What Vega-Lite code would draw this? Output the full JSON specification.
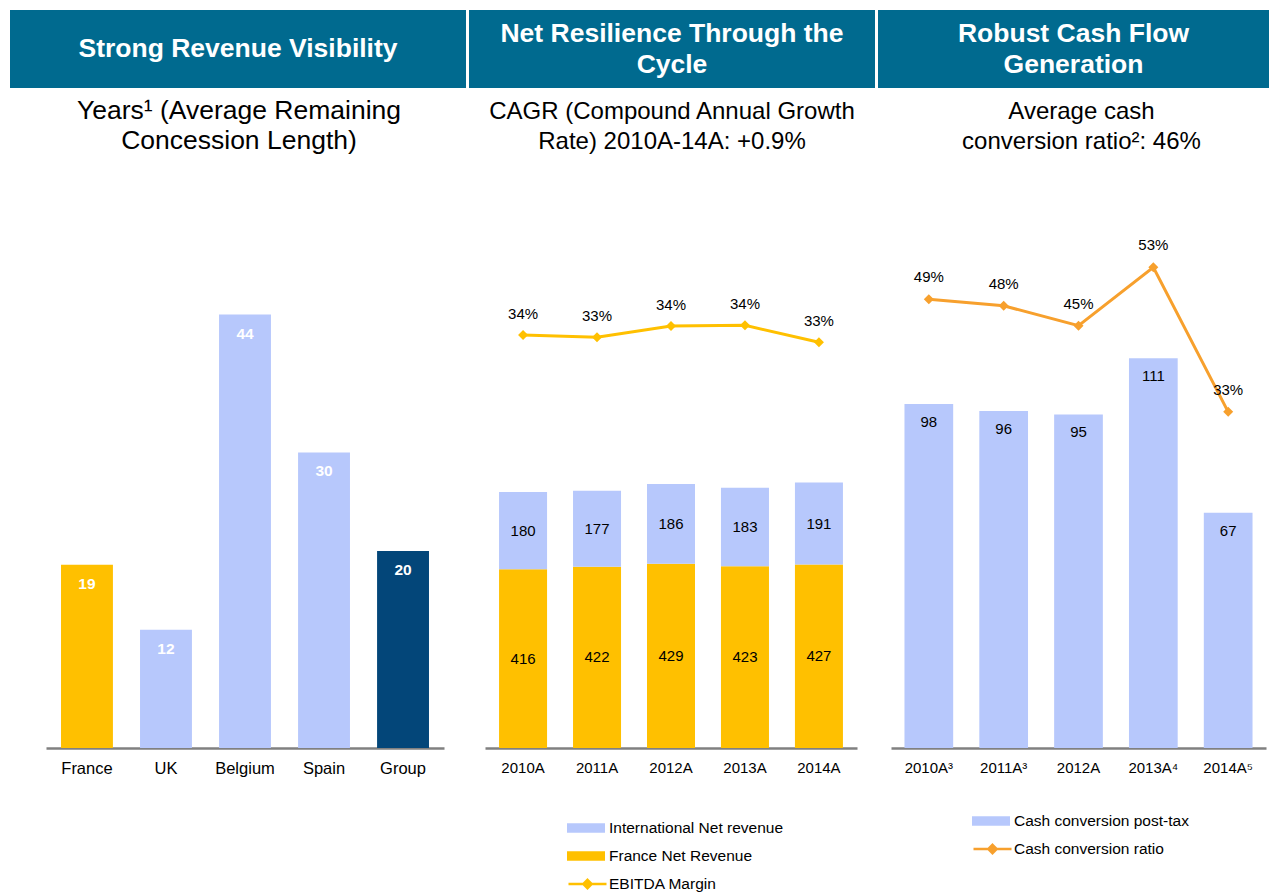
{
  "$schema": "https://vega.github.io/schema/vega-lite/v6.json",
  "padding": {"left": 10, "top": 10, "right": 0, "bottom": 0},
  "background": "white",
  "config": {
    "font": "Liberation Sans",
    "view": {"stroke": null},
    "axisX": {"domainColor": "#808080", "domainWidth": 2.5, "ticks": false, "labelFontSize": 15, "labelColor": "#000000", "labelPadding": 12, "labelAngle": 0, "grid": false, "labelFont": "Liberation Sans"},
    "title": {"fontSize": 24, "fontWeight": "normal", "color": "#000000", "anchor": "middle", "frame": "group", "baseline": "middle", "lineHeight": 30, "offset": 46, "font": "Liberation Sans"},
    "legend": {"labelFontSize": 15.5, "labelColor": "#000000", "labelFont": "Liberation Sans", "padding": 0, "symbolSize": 1444, "clipHeight": 20, "rowPadding": 8, "labelOffset": 4, "labelLimit": 400}
  },
  "datasets": {
    "concession": [
      {"country": "France", "years": 18.6},
      {"country": "UK", "years": 12},
      {"country": "Belgium", "years": 44},
      {"country": "Spain", "years": 30},
      {"country": "Group", "years": 20}
    ],
    "revenue": [
      {"year": "2010A", "series": "France Net Revenue", "revenue": 416},
      {"year": "2010A", "series": "International Net revenue", "revenue": 180},
      {"year": "2011A", "series": "France Net Revenue", "revenue": 422},
      {"year": "2011A", "series": "International Net revenue", "revenue": 177},
      {"year": "2012A", "series": "France Net Revenue", "revenue": 429},
      {"year": "2012A", "series": "International Net revenue", "revenue": 186},
      {"year": "2013A", "series": "France Net Revenue", "revenue": 423},
      {"year": "2013A", "series": "International Net revenue", "revenue": 183},
      {"year": "2014A", "series": "France Net Revenue", "revenue": 427},
      {"year": "2014A", "series": "International Net revenue", "revenue": 191}
    ],
    "margin": [
      {"year": "2010A", "ebitda": 0.336},
      {"year": "2011A", "ebitda": 0.334},
      {"year": "2012A", "ebitda": 0.3438},
      {"year": "2013A", "ebitda": 0.3444},
      {"year": "2014A", "ebitda": 0.3297}
    ],
    "cash": [
      {"year": "2010A³", "cash": 98, "ratio": 0.487},
      {"year": "2011A³", "cash": 96, "ratio": 0.478},
      {"year": "2012A", "cash": 95, "ratio": 0.45},
      {"year": "2013A⁴", "cash": 111, "ratio": 0.532},
      {"year": "2014A⁵", "cash": 67, "ratio": 0.329}
    ]
  },
  "hconcat": [
    {
      "vconcat": [
        {
          "width": 456, "height": 78,
          "view": {"fill": "#006A8F", "stroke": null},
          "data": {"values": [{"h": "Strong Revenue Visibility"}]},
          "mark": {"type": "text", "fontSize": 26.5, "fontWeight": "bold", "color": "white", "lineBreak": "\n", "lineHeight": 31, "baseline": "middle", "align": "center"},
          "encoding": {"text": {"field": "h"}}
        },
        {
          "width": 456, "height": 548,
          "title": {"text": ["Years¹ (Average Remaining", "Concession Length)"], "fontSize": 26.5, "dx": 1},
          "data": {"name": "concession"},
          "encoding": {
            "x": {"field": "country", "type": "nominal", "sort": null, "title": null,
                  "axis": {"labelFontSize": 16.5},
                  "scale": {"range": [36, 434], "paddingInner": 0.343, "paddingOuter": 0.19}},
            "y": {"field": "years", "type": "quantitative", "axis": null, "scale": {"domain": [0, 55.63]}}
          },
          "layer": [
            {
              "mark": {"type": "bar"},
              "encoding": {
                "color": {"field": "country", "type": "nominal", "sort": null, "legend": null,
                          "scale": {"domain": ["France", "UK", "Belgium", "Spain", "Group"], "range": ["#FFC000", "#B7C8FC", "#B7C8FC", "#B7C8FC", "#034679"]}}
              }
            },
            {
              "mark": {"type": "text", "dy": 19, "baseline": "middle", "fontWeight": "bold", "color": "white", "fontSize": 15.5},
              "encoding": {"text": {"field": "years", "type": "quantitative", "format": ".0f"}}
            }
          ]
        }
      ],
      "spacing": 112,
      "bounds": "flush"
    },
    {
      "vconcat": [
        {
          "width": 406, "height": 78,
          "view": {"fill": "#006A8F", "stroke": null},
          "data": {"values": [{"h": "Net Resilience Through the\nCycle"}]},
          "mark": {"type": "text", "fontSize": 26.5, "fontWeight": "bold", "color": "white", "lineBreak": "\n", "lineHeight": 31, "baseline": "middle", "align": "center", "dy": -15.5},
          "encoding": {"text": {"field": "h"}}
        },
        {
          "width": 406, "height": 548,
          "title": {"text": ["CAGR (Compound Annual Growth", "Rate) 2010A-14A: +0.9%"]},
          "layer": [
            {
              "data": {"name": "revenue"},
              "mark": {"type": "bar"},
              "encoding": {
                "x": {"field": "year", "type": "nominal", "sort": null, "title": null,
                      "scale": {"range": [16, 388], "paddingInner": 0.351, "paddingOuter": 0.19}},
                "y": {"field": "revenue", "type": "quantitative", "stack": "zero", "axis": null, "scale": {"domain": [0, 1276]}},
                "color": {"field": "series", "type": "nominal",
                          "scale": {"domain": ["International Net revenue", "France Net Revenue"], "range": ["#B7C8FC", "#FFC000"]},
                          "legend": {"title": null, "orient": "none", "legendX": 98, "legendY": 618, "symbolType": "M-1,-0.25H1V0.25H-1Z", "symbolStrokeWidth": 0}},
                "order": {"field": "series", "sort": "ascending"}
              }
            },
            {
              "data": {"name": "revenue"},
              "mark": {"type": "text", "fontSize": 15, "color": "#000000", "baseline": "middle"},
              "encoding": {
                "x": {"field": "year", "type": "nominal", "sort": null, "title": null},
                "y": {"field": "revenue", "type": "quantitative", "stack": "zero", "bandPosition": 0.5, "axis": null, "scale": {"domain": [0, 1276]}},
                "detail": {"field": "series"},
                "order": {"field": "series", "sort": "ascending"},
                "text": {"field": "revenue", "type": "quantitative"}
              }
            },
            {
              "data": {"name": "margin"},
              "mark": {"type": "line", "strokeWidth": 3},
              "encoding": {
                "x": {"field": "year", "type": "nominal", "sort": null, "title": null},
                "y": {"field": "ebitda", "type": "quantitative", "axis": null, "scale": {"domain": [-0.02, 0.4524]}},
                "stroke": {"datum": "EBITDA Margin", "type": "nominal", "scale": {"range": ["#FFC000"]},
                           "legend": {"title": null, "orient": "none", "legendX": 98, "legendY": 674, "labelOffset": 1, "symbolType": "M-1,0H1M0,-0.22L0.22,0L0,0.22L-0.22,0Z", "symbolStrokeWidth": 2.5, "symbolFillColor": "#FFC000"}}
              }
            },
            {
              "data": {"name": "margin"},
              "mark": {"type": "point", "shape": "diamond", "filled": true, "size": 100, "color": "#FFC000", "opacity": 1},
              "encoding": {
                "x": {"field": "year", "type": "nominal", "sort": null, "title": null},
                "y": {"field": "ebitda", "type": "quantitative", "axis": null, "scale": {"domain": [-0.02, 0.4524]}}
              }
            },
            {
              "data": {"name": "margin"},
              "mark": {"type": "text", "fontSize": 15, "color": "#000000", "baseline": "middle", "dy": -21},
              "encoding": {
                "x": {"field": "year", "type": "nominal", "sort": null, "title": null},
                "y": {"field": "ebitda", "type": "quantitative", "axis": null, "scale": {"domain": [-0.02, 0.4524]}},
                "text": {"field": "ebitda", "type": "quantitative", "format": ".0%"}
              }
            }
          ],
          "resolve": {"scale": {"y": "independent"}}
        }
      ],
      "spacing": 112,
      "bounds": "flush",
      "resolve": {"scale": {"color": "independent", "stroke": "independent"}, "legend": {"color": "independent", "stroke": "independent"}}
    },
    {
      "vconcat": [
        {
          "width": 391, "height": 78,
          "view": {"fill": "#006A8F", "stroke": null},
          "data": {"values": [{"h": "Robust Cash Flow\nGeneration"}]},
          "mark": {"type": "text", "fontSize": 26.5, "fontWeight": "bold", "color": "white", "lineBreak": "\n", "lineHeight": 31, "baseline": "middle", "align": "center", "dy": -15.5},
          "encoding": {"text": {"field": "h"}}
        },
        {
          "width": 391, "height": 548,
          "title": {"text": ["Average cash", "conversion ratio²: 46%"], "dx": 8},
          "data": {"name": "cash"},
          "layer": [
            {
              "mark": {"type": "bar"},
              "encoding": {
                "x": {"field": "year", "type": "nominal", "sort": null, "title": null,
                      "scale": {"range": [13, 388], "paddingInner": 0.349, "paddingOuter": 0.18}},
                "y": {"field": "cash", "type": "quantitative", "axis": null, "scale": {"domain": [0, 156.1]}},
                "color": {"datum": "Cash conversion post-tax", "type": "nominal", "scale": {"range": ["#B7C8FC"]},
                          "legend": {"title": null, "orient": "none", "legendX": 94, "legendY": 611, "symbolType": "M-1,-0.25H1V0.25H-1Z", "symbolStrokeWidth": 0}}
              }
            },
            {
              "mark": {"type": "text", "fontSize": 15, "color": "#000000", "baseline": "middle", "dy": 18},
              "encoding": {
                "x": {"field": "year", "type": "nominal", "sort": null, "title": null},
                "y": {"field": "cash", "type": "quantitative", "axis": null, "scale": {"domain": [0, 156.1]}},
                "text": {"field": "cash", "type": "quantitative"}
              }
            },
            {
              "mark": {"type": "line", "strokeWidth": 3},
              "encoding": {
                "x": {"field": "year", "type": "nominal", "sort": null, "title": null},
                "y": {"field": "ratio", "type": "quantitative", "axis": null, "scale": {"domain": [-0.143, 0.6265]}},
                "stroke": {"datum": "Cash conversion ratio", "type": "nominal", "scale": {"range": ["#F7A02D"]},
                           "legend": {"title": null, "orient": "none", "legendX": 94, "legendY": 639, "labelOffset": 1, "symbolType": "M-1,0H1M0,-0.22L0.22,0L0,0.22L-0.22,0Z", "symbolStrokeWidth": 2.5, "symbolFillColor": "#F7A02D"}}
              }
            },
            {
              "mark": {"type": "point", "shape": "diamond", "filled": true, "size": 100, "color": "#F7A02D", "opacity": 1},
              "encoding": {
                "x": {"field": "year", "type": "nominal", "sort": null, "title": null},
                "y": {"field": "ratio", "type": "quantitative", "axis": null, "scale": {"domain": [-0.143, 0.6265]}}
              }
            },
            {
              "mark": {"type": "text", "fontSize": 15, "color": "#000000", "baseline": "middle", "dy": -22},
              "encoding": {
                "x": {"field": "year", "type": "nominal", "sort": null, "title": null},
                "y": {"field": "ratio", "type": "quantitative", "axis": null, "scale": {"domain": [-0.143, 0.6265]}},
                "text": {"field": "ratio", "type": "quantitative", "format": ".0%"}
              }
            }
          ],
          "resolve": {"scale": {"y": "independent"}}
        }
      ],
      "spacing": 112,
      "bounds": "flush",
      "resolve": {"scale": {"color": "independent", "stroke": "independent"}, "legend": {"color": "independent", "stroke": "independent"}}
    }
  ],
  "spacing": 3,
  "resolve": {"scale": {"x": "independent", "y": "independent", "color": "independent", "stroke": "independent"}, "legend": {"color": "independent", "stroke": "independent"}}
}
